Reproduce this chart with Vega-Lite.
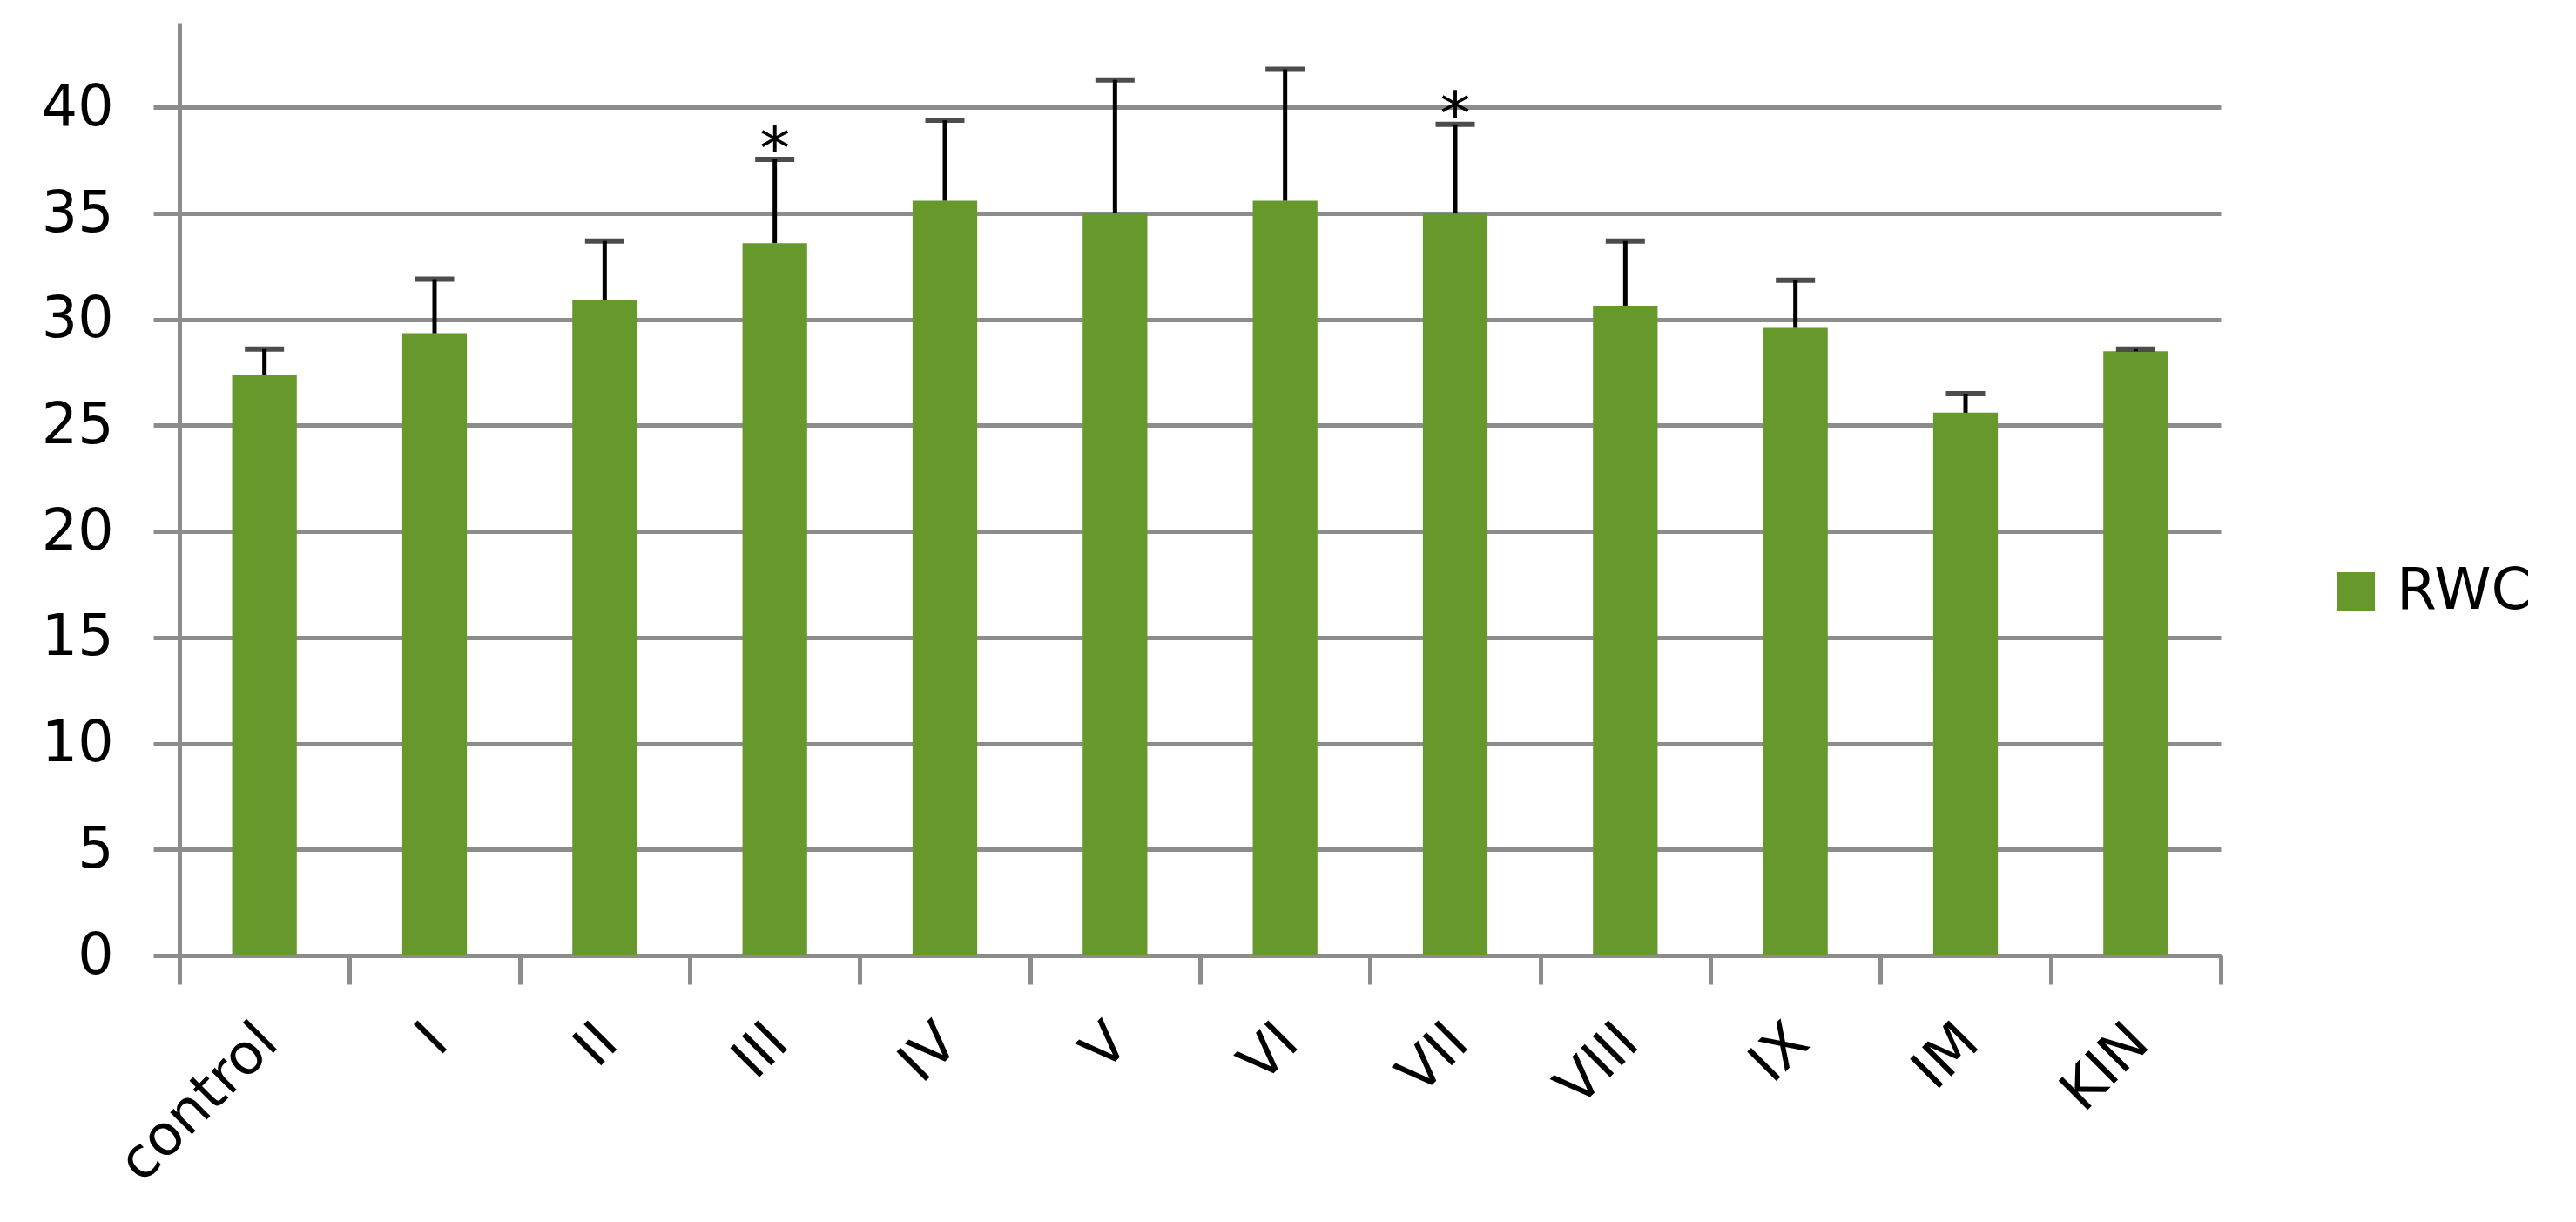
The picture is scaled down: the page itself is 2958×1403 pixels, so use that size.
{
  "$schema": "https://vega.github.io/schema/vega-lite/v6.json",
  "width": 2344,
  "height": 1071,
  "autosize": {"type": "none"},
  "padding": {"left": 206, "top": 26, "right": 408, "bottom": 306},
  "background": "white",
  "config": {"view": {"stroke": null}, "font": "DejaVu Sans"},
  "data": {
    "values": [
      {"group": "control", "mean": 27.4, "upper": 28.6, "sig": ""},
      {"group": "I", "mean": 29.35, "upper": 31.9, "sig": ""},
      {"group": "II", "mean": 30.9, "upper": 33.7, "sig": ""},
      {"group": "III", "mean": 33.6, "upper": 37.55, "sig": "*"},
      {"group": "IV", "mean": 35.6, "upper": 39.4, "sig": ""},
      {"group": "V", "mean": 35.0, "upper": 41.3, "sig": ""},
      {"group": "VI", "mean": 35.6, "upper": 41.8, "sig": ""},
      {"group": "VII", "mean": 35.0, "upper": 39.2, "sig": "*"},
      {"group": "VIII", "mean": 30.65, "upper": 33.7, "sig": ""},
      {"group": "IX", "mean": 29.6, "upper": 31.85, "sig": ""},
      {"group": "IM", "mean": 25.6, "upper": 26.5, "sig": ""},
      {"group": "KIN", "mean": 28.5, "upper": 28.6, "sig": ""}
    ]
  },
  "encoding": {
    "x": {
      "field": "group",
      "type": "nominal",
      "sort": null,
      "scale": {"paddingInner": 0, "paddingOuter": 0},
      "axis": {
        "title": null,
        "tickBand": "extent",
        "labelAngle": -45,
        "labelFontSize": 65,
        "labelColor": "black",
        "labelLimit": 0,
        "labelPadding": 34,
        "labelOffset": -18,
        "domainColor": "#8c8c8c",
        "domainWidth": 5,
        "tickColor": "#8c8c8c",
        "tickWidth": 5,
        "tickSize": 33,
        "grid": false
      }
    }
  },
  "layer": [
    {
      "mark": {"type": "bar", "width": {"band": 0.38}},
      "encoding": {
        "y": {
          "field": "mean",
          "type": "quantitative",
          "scale": {"domain": [0, 44], "nice": false},
          "axis": {
            "title": null,
            "values": [0, 5, 10, 15, 20, 25, 30, 35, 40],
            "grid": true,
            "gridColor": "#8c8c8c",
            "gridWidth": 5,
            "domainColor": "#8c8c8c",
            "domainWidth": 5,
            "tickColor": "#8c8c8c",
            "tickWidth": 5,
            "tickSize": 30,
            "labelFontSize": 65,
            "labelColor": "black",
            "labelPadding": 46
          }
        },
        "color": {
          "datum": "RWC",
          "type": "nominal",
          "scale": {"range": ["#66982b"]},
          "legend": {
            "title": null,
            "orient": "none",
            "legendX": 2466,
            "legendY": 620,
            "symbolType": "square",
            "symbolSize": 1936,
            "symbolStrokeWidth": 0,
            "labelFontSize": 66,
            "labelColor": "black",
            "labelOffset": 14
          }
        }
      }
    },
    {
      "mark": {"type": "rule", "color": "black", "strokeWidth": 5},
      "encoding": {
        "y": {"field": "mean", "type": "quantitative"},
        "y2": {"field": "upper"}
      }
    },
    {
      "mark": {"type": "tick", "color": "black", "thickness": 6, "size": 45},
      "encoding": {
        "y": {"field": "upper", "type": "quantitative"}
      }
    },
    {
      "mark": {"type": "text", "fontSize": 70, "baseline": "alphabetic", "dy": 12, "color": "black"},
      "encoding": {
        "y": {"field": "upper", "type": "quantitative"},
        "text": {"field": "sig"}
      }
    }
  ]
}
